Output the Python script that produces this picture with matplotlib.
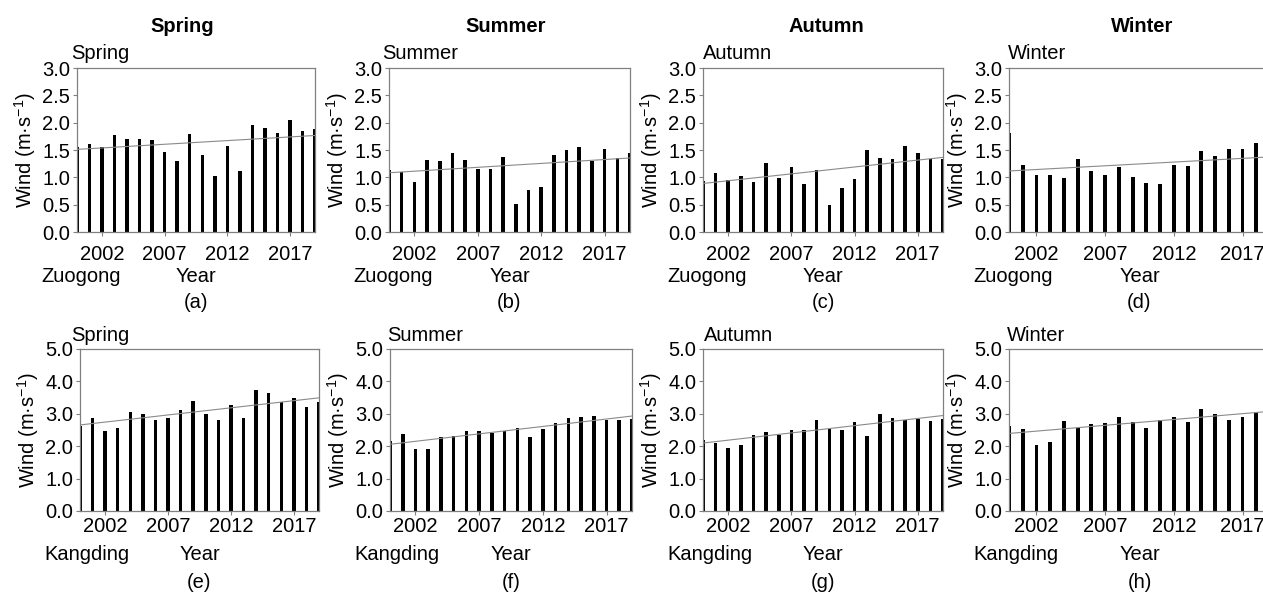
import numpy as np
import matplotlib
matplotlib.use('Agg')
import matplotlib.pyplot as plt

plt.rcParams['font.family'] = ['Liberation Sans', 'DejaVu Sans']
plt.rcParams['mathtext.fontset'] = 'custom'
plt.rcParams['mathtext.rm'] = 'Liberation Sans'
plt.rcParams['mathtext.it'] = 'Liberation Sans:italic'

W, H = 1263, 594

years = np.arange(2000, 2020)
seasons = ['Spring', 'Summer', 'Autumn', 'Winter']
stations = ['Zuogong', 'Kangding']
panel_tags = ['(a)', '(b)', '(c)', '(d)', '(e)', '(f)', '(g)', '(h)']
xtick_years = [2002, 2007, 2012, 2017]

zuogong_spring = [1.56, 1.61, 1.56, 1.78, 1.71, 1.71, 1.68, 1.47, 1.30, 1.79,
                  1.41, 1.03, 1.58, 1.12, 1.96, 1.91, 1.81, 2.04, 1.85, 1.89]
zuogong_summer = [1.14, 1.09, 0.92, 1.32, 1.30, 1.45, 1.31, 1.16, 1.15, 1.38,
                  0.51, 0.77, 0.82, 1.41, 1.50, 1.55, 1.29, 1.51, 1.36, 1.44]
zuogong_autumn = [0.94, 1.08, 0.96, 1.02, 0.91, 1.27, 0.99, 1.19, 0.87, 1.14,
                  0.50, 0.81, 0.97, 1.50, 1.36, 1.33, 1.57, 1.44, 1.34, 1.34]
zuogong_winter = [1.81, 1.22, 1.04, 1.05, 0.98, 1.34, 1.12, 1.05, 1.19, 1.00,
                  0.89, 0.88, 1.22, 1.20, 1.49, 1.39, 1.52, 1.52, 1.62]

kangding_spring = [2.62, 2.87, 2.48, 2.57, 3.05, 2.99, 2.82, 2.88, 3.13, 3.39,
                   2.99, 2.82, 3.27, 2.88, 3.72, 3.63, 3.35, 3.48, 3.20, 3.35]
kangding_summer = [2.15, 2.37, 1.90, 1.90, 2.27, 2.30, 2.48, 2.46, 2.40, 2.47,
                   2.55, 2.27, 2.53, 2.73, 2.86, 2.89, 2.92, 2.80, 2.80, 2.85]
kangding_autumn = [2.18, 2.11, 1.93, 2.04, 2.35, 2.44, 2.34, 2.49, 2.51, 2.80,
                   2.52, 2.51, 2.76, 2.30, 3.00, 2.87, 2.81, 2.85, 2.79, 2.84]
kangding_winter = [2.63, 2.53, 2.03, 2.12, 2.78, 2.55, 2.69, 2.73, 2.89, 2.76,
                   2.56, 2.80, 2.91, 2.74, 3.16, 2.98, 2.80, 2.91, 3.05]

rows = [
    [zuogong_spring, zuogong_summer, zuogong_autumn, zuogong_winter],
    [kangding_spring, kangding_summer, kangding_autumn, kangding_winter],
]
ymax = [3.0, 5.0]
ystep = [0.5, 1.0]

# axes boxes in pixels: (left, right) per column, (top, bottom) per row
col_lr = [[(77, 315), (389, 630), (703, 943), (1009, 1270)],
          [(80, 319), (390, 632), (703, 943), (1009, 1270)]]
row_tb = [(68, 232), (349, 511)]
season_label_x = [[71, 382, 703, 1008], [71, 387, 704, 1007]]
season_label_y = [63, 345]
name_y = [277, 555]
tag_y = [302, 583]
xtick_pad = [6.5, 1.5]

FS = 14.5
spine_col = '#808080'
fig = plt.figure(figsize=(W / 100, H / 100), dpi=100)


def fx(px):
    return px / W


def fy(py):
    return 1 - py / H


for r in range(2):
    top, bot = row_tb[r]
    for c in range(4):
        left, right = col_lr[r][c]
        ax = fig.add_axes([fx(left), fy(bot), fx(right - left), (bot - top) / H])
        vals = np.array(rows[r][c])
        yrs = years[:len(vals)]
        ax.bar(yrs, vals, width=0.28, color='black', zorder=2)
        k, b = np.polyfit(yrs, vals, 1)
        xs = np.array([2000, 2019])
        ax.plot(xs, k * xs + b, color='#8a8a8a', lw=0.8, zorder=3)
        ax.set_xlim(2000, 2019)
        ax.set_ylim(0, ymax[r])
        yt = np.arange(0, ymax[r] + 0.001, ystep[r])
        ax.set_yticks(yt)
        ax.set_yticklabels([f'{v:.1f}' for v in yt])
        ax.set_xticks(xtick_years)
        ax.tick_params(labelsize=FS, length=3, width=0.8, color=spine_col, pad=2)
        ax.tick_params(axis='x', pad=xtick_pad[r])
        for s in ax.spines.values():
            s.set_color(spine_col)
            s.set_linewidth(0.9)
        ax.set_ylabel('Wind (m·s$^{-1}$)', fontsize=FS, labelpad=3)

        fig.text(fx(season_label_x[r][c]), fy(season_label_y[r]), seasons[c],
                 fontsize=FS, ha='left', va='bottom')
        cx = (left + right) / 2
        fig.text(fx(cx), fy(name_y[r]), 'Year', fontsize=FS,
                 ha='center', va='center')
        fig.text(fx(left - 36), fy(name_y[r]), stations[r],
                 fontsize=FS, ha='left', va='center')
        fig.text(fx(cx), fy(tag_y[r]), panel_tags[r * 4 + c],
                 fontsize=FS, ha='center', va='center')

col_title_x = [182, 506, 826, 1142]
for c in range(4):
    fig.text(fx(col_title_x[c]), fy(27), seasons[c], fontsize=FS,
             fontweight='bold', ha='center', va='center')

fig.savefig('out.png', dpi=100)
